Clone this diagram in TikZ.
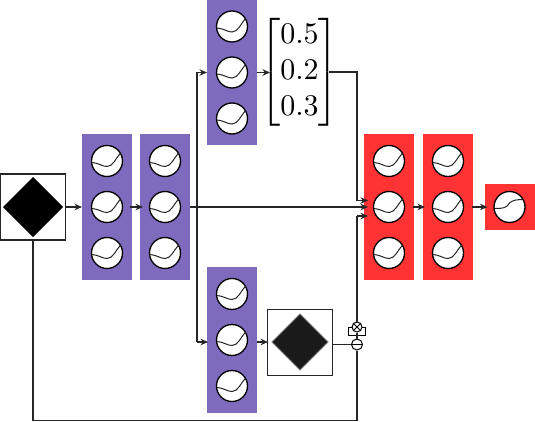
\documentclass[tikz,border=0pt]{standalone}
\usepackage{amsmath,graphicx}
\usetikzlibrary{arrows.meta}
\definecolor{purp}{HTML}{7F6BBD}
\definecolor{redd}{HTML}{FF3333}
\definecolor{dgray}{HTML}{1A1A1A}
\tikzset{
  x=1pt,y=-1pt,
  panel/.style={inner sep=0pt,outer sep=0pt,minimum width=50pt,minimum height=#1},
  purppanel/.style={panel=146pt,fill=purp},
  redpanel/.style={panel=146pt,fill=redd},
  unit/.style={circle,draw=black,line width=1.3pt,fill=white,minimum size=31pt,inner sep=0pt},
  curve/.style={line width=1pt,black!85},
  wire/.style={line width=1.1pt,black!85},
  arr/.style={wire,-{Stealth[length=7.5pt,width=6.5pt]}},
  squarebox/.style={draw=black!85,line width=1.2pt,fill=white,minimum width=65pt,minimum height=66pt,inner sep=0pt},
  opcirc/.style={circle,draw=black,line width=1pt,fill=white,minimum size=11pt,inner sep=0pt},
}
\newcommand{\colunits}[1]{%
  \foreach \k/\dy in {a/46,b/0,c/-46}{
    \node[unit] (#1\k) at ([yshift=\dy pt]#1.center) {};
    \draw[curve]
      ([shift={(-15pt,-1.5pt)}]#1\k.center) .. controls ([shift={(-8pt,-2pt)}]#1\k.center) and ([shift={(-5pt,-5.5pt)}]#1\k.center) ..
      ([shift={(0pt,-5.5pt)}]#1\k.center) .. controls ([shift={(6pt,-5.5pt)}]#1\k.center) and ([shift={(9pt,3pt)}]#1\k.center) ..
      ([shift={(13.5pt,8pt)}]#1\k.center);
  }
}
\begin{document}
\begin{tikzpicture}
\useasboundingbox (0,0) rectangle (535,422);
% panels
\node[purppanel] (c1) at (107,207) {};
\node[purppanel] (c2) at (165,207) {};
\node[purppanel] (t) at (232,72.5) {};
\node[purppanel] (b) at (232,340) {};
\node[redpanel] (r1) at (389,207) {};
\node[redpanel] (r2) at (448,207) {};
\node[panel=46pt,fill=redd] (o) at (509.5,207) {};
\colunits{c1}
\colunits{c2}
\colunits{t}
\colunits{b}
\colunits{r1}
\colunits{r2}
\node[unit] (ou) at (o.center) {};
\draw[curve]
  ([shift={(-15pt,-1.5pt)}]ou.center) .. controls ([shift={(-6pt,-1.5pt)}]ou.center) and ([shift={(-3pt,-1pt)}]ou.center) ..
  ([shift={(0pt,4pt)}]ou.center) .. controls ([shift={(3pt,7pt)}]ou.center) and ([shift={(8pt,7.5pt)}]ou.center) ..
  ([shift={(14pt,7.5pt)}]ou.center);
% boxes
\node[squarebox] (inp) at (33,207) {};
\fill[black] (33,177) -- (63,207) -- (33,237) -- (3,207) -- cycle;
\node[squarebox] (pool) at (300,342.7) {};
\draw[dgray!60,line width=1pt,fill=dgray] (300,314) -- (328,342) -- (300,370) -- (272,342) -- cycle;
% matrix
\node[inner sep=0pt] (mat) at (299.5,72.5) {\scalebox{3}{$\begin{bmatrix}0.5\\0.2\\0.3\end{bmatrix}$}};
% operators
\node[opcirc] (minus) at (357,344.5) {};
\draw[line width=0.9pt] (minus.west) -- (minus.east);
\draw[line width=1pt,fill=white] (348.5,327) rectangle (365.5,335.5);
\node[opcirc,minimum size=10pt] (times) at (357,327) {};
\draw[line width=0.9pt] (times.north west) -- (times.south east) (times.north east) -- (times.south west);
% coordinates
\coordinate (jt) at (197,72.5);
\coordinate (jb) at (197,342);
\coordinate (bt) at (208,342);
\coordinate (pt) at (268,342);
\coordinate (mr) at (329,72);
\coordinate (m1) at (357,72);
\coordinate (j2) at (357,200.5);
\coordinate (j3) at (357,216);
\coordinate (e2) at (368,200.5);
\coordinate (e3) at (368,216);
\coordinate (bb) at (33,420.5);
\coordinate (bc) at (357,420.5);
% connectors
\draw[arr] (inp.east) -- (c1.west);
\draw[arr] ([xshift=-2pt]c1.east) -- ([xshift=3pt]c2.west);
\draw[arr] (c2.east) -- ([xshift=4pt]r1.west);
\draw[wire] (jt) -- (jb);
\draw[arr] (jt) -- (t.west);
\draw[arr] (jb) -- (bt);
\draw[arr] (t.east) -- ([xshift=-29.5pt,yshift=0pt]mat.center|-t.east);
\draw[arr] (b.east|-bt) -- (pt);
\draw[wire] (mr) -- (m1) -- (j2);
\draw[arr] (j2) -- (e2);
\draw[wire] (times.south|-j3) -- (times.north);
\draw[arr] (j3) -- (e3);
\draw[wire] (times.south) -- (minus.north);
\draw[wire] (pool.east|-minus) -- (minus.west);
\draw[wire] (inp.south) -- (bb) -- (bc) -- (minus.south);
\draw[arr] ([xshift=-1.5pt]r1.east) -- ([xshift=2pt]r2.west);
\draw[arr] ([xshift=-1.5pt]r2.east) -- ([xshift=3pt]o.west);
\end{tikzpicture}
\end{document}
